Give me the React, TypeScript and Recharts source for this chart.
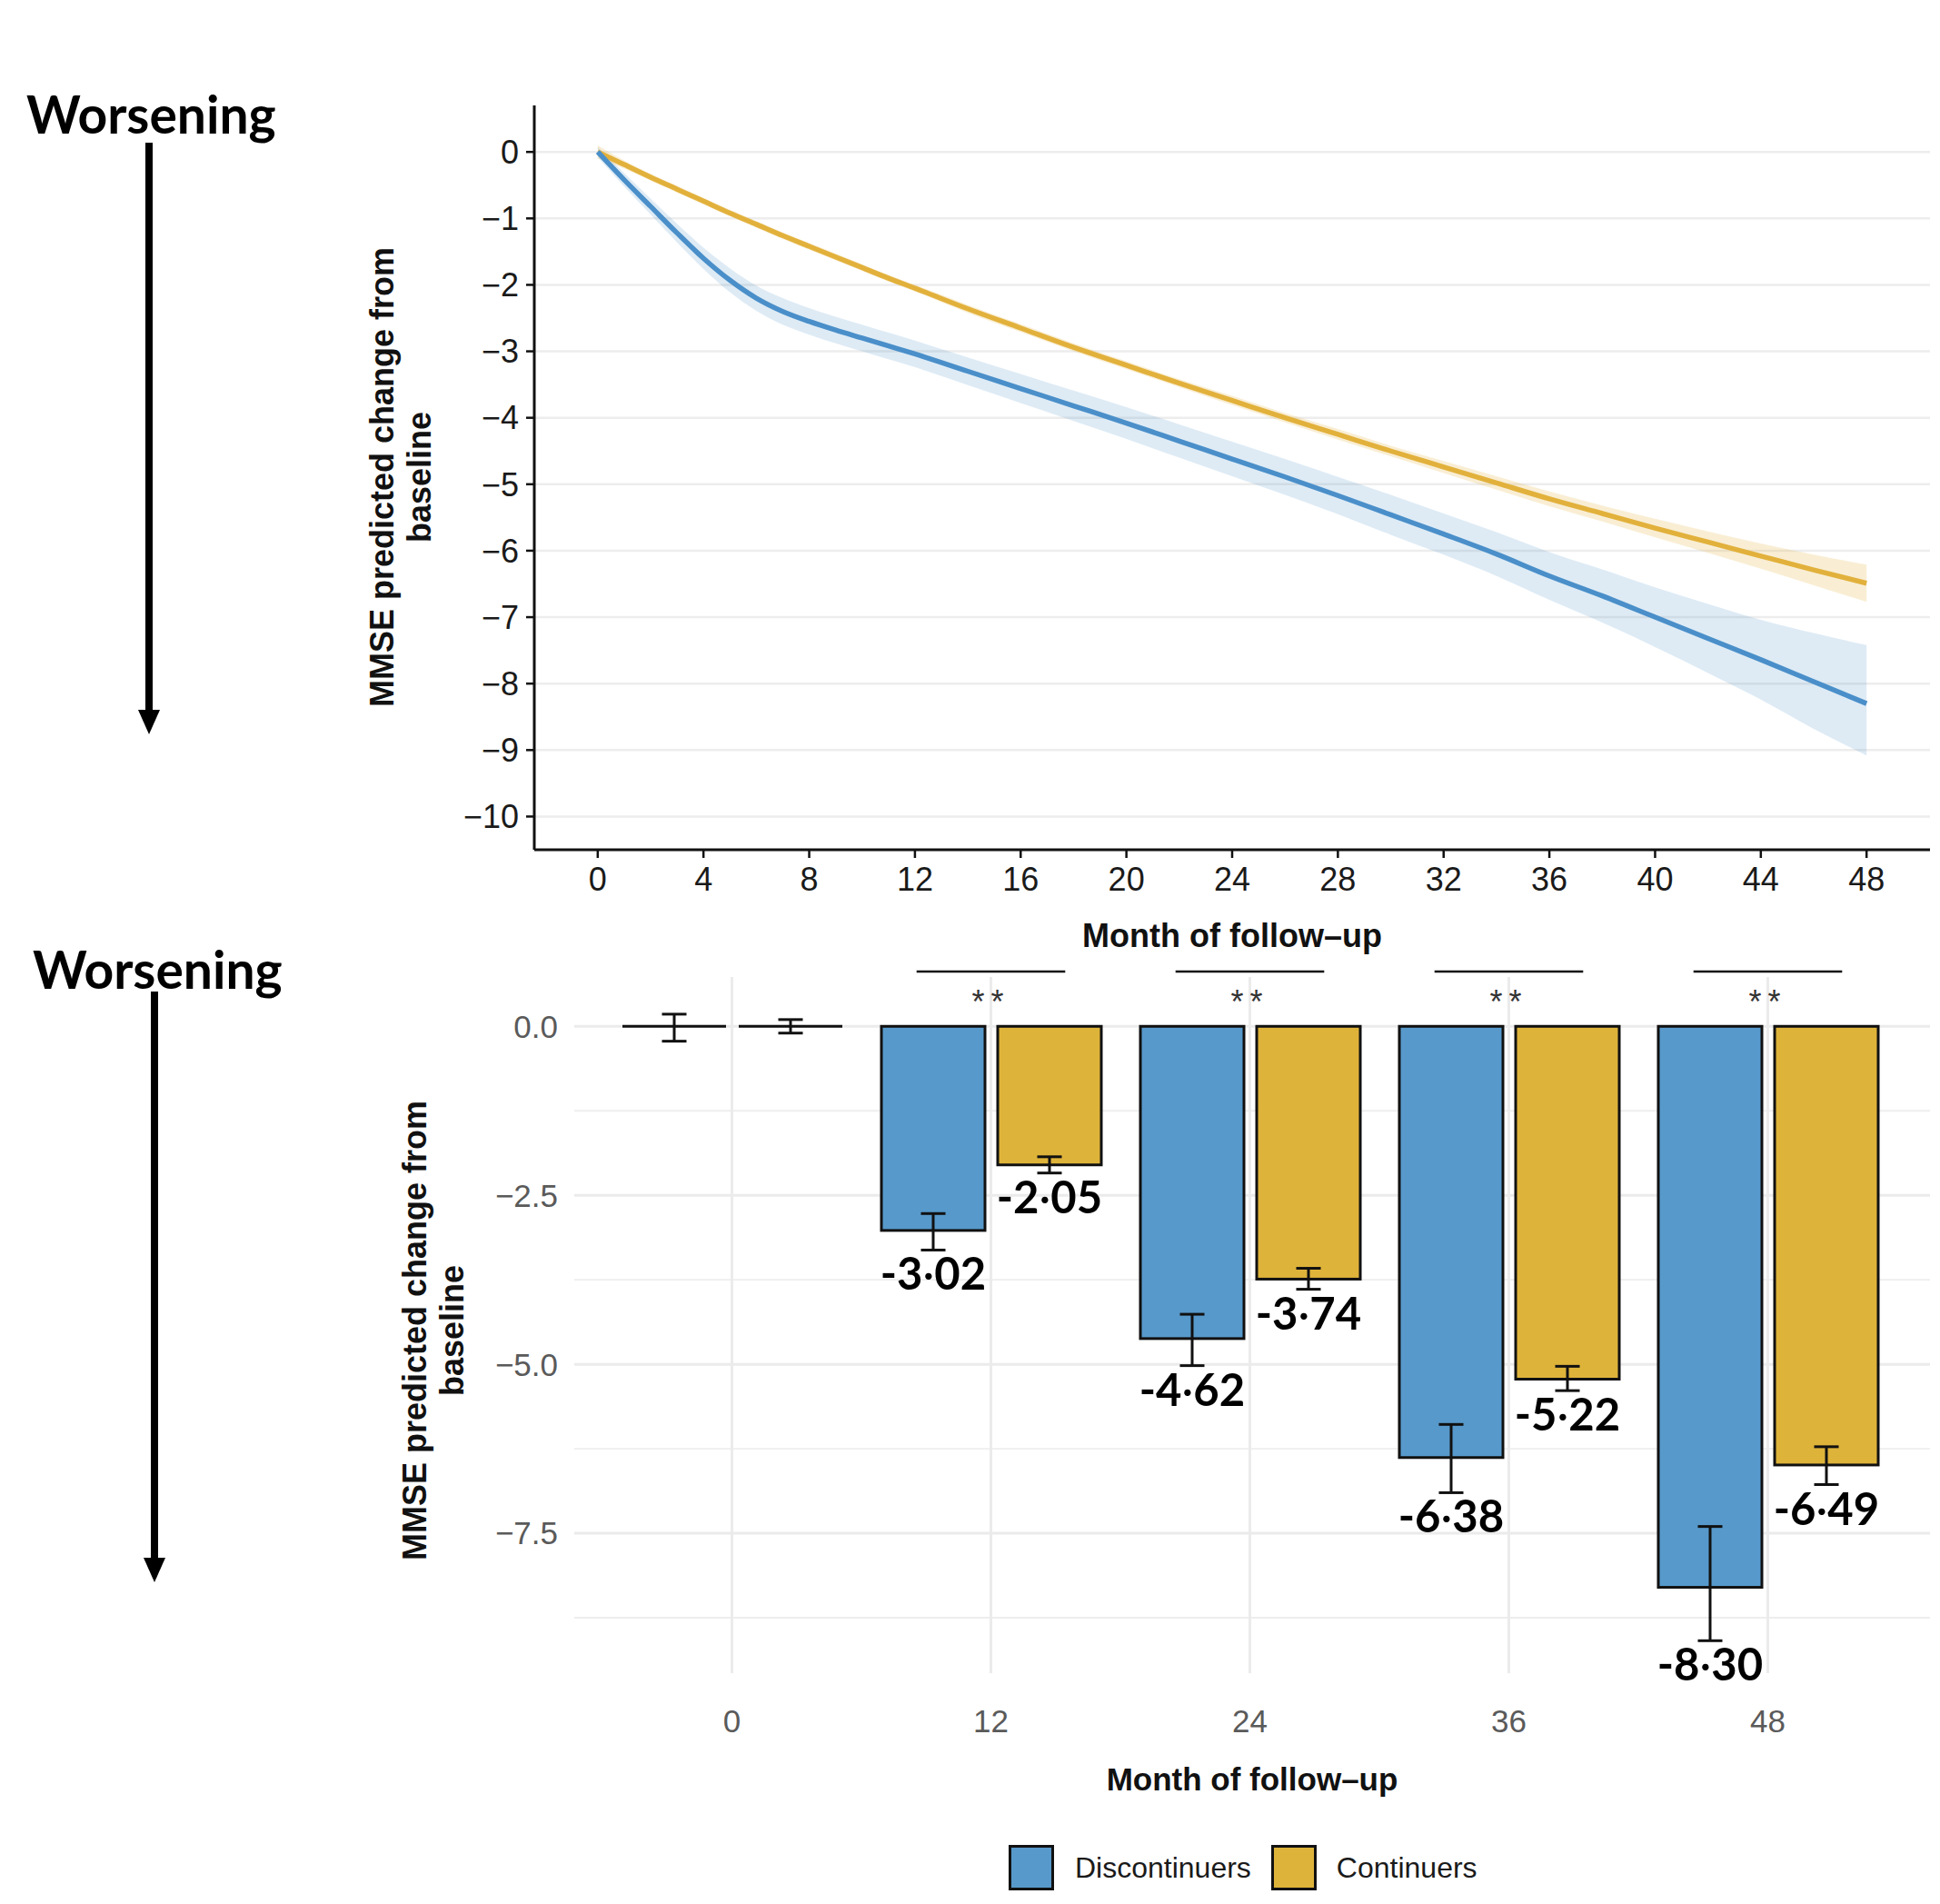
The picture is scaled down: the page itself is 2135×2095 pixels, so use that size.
import React from 'react';
import {
  ComposedChart,
  Bar,
  Line,
  Area,
  XAxis,
  YAxis,
  CartesianGrid,
  ErrorBar,
  LabelList,
  ReferenceLine,
  ReferenceDot,
} from 'recharts';

// ---------- Top panel: predicted trajectories ----------
const lineMonths = [0, 1, 2, 3, 4, 5, 6, 7, 8, 9, 10, 11, 12, 14, 16, 18, 20, 22, 24, 26, 28, 30, 32, 34, 36, 38, 40, 42, 44, 46, 48];
const discLine = [0, -0.42, -0.82, -1.22, -1.6, -1.93, -2.2, -2.4, -2.55, -2.68, -2.8, -2.92, -3.04, -3.3, -3.56, -3.82, -4.08, -4.35, -4.62, -4.89, -5.17, -5.46, -5.75, -6.05, -6.38, -6.68, -7.0, -7.32, -7.64, -7.97, -8.3];
const discUpper = [0.08, -0.32, -0.7, -1.08, -1.44, -1.75, -2.01, -2.2, -2.35, -2.48, -2.6, -2.72, -2.84, -3.09, -3.34, -3.59, -3.84, -4.1, -4.36, -4.62, -4.89, -5.16, -5.44, -5.72, -6.02, -6.28, -6.55, -6.8, -7.04, -7.24, -7.42];
const discLower = [-0.08, -0.52, -0.94, -1.36, -1.76, -2.11, -2.39, -2.6, -2.75, -2.88, -3.0, -3.12, -3.24, -3.51, -3.78, -4.05, -4.32, -4.6, -4.88, -5.16, -5.45, -5.76, -6.06, -6.38, -6.74, -7.08, -7.45, -7.84, -8.24, -8.68, -9.08];
const contLine = [0, -0.19, -0.38, -0.56, -0.74, -0.92, -1.09, -1.26, -1.42, -1.58, -1.74, -1.9, -2.05, -2.36, -2.65, -2.94, -3.21, -3.48, -3.74, -4.0, -4.25, -4.5, -4.74, -4.98, -5.22, -5.44, -5.66, -5.87, -6.08, -6.29, -6.49];
const contUpper = [0.1, -0.13, -0.33, -0.51, -0.69, -0.87, -1.04, -1.21, -1.37, -1.53, -1.69, -1.85, -2.0, -2.3, -2.59, -2.88, -3.15, -3.42, -3.67, -3.93, -4.17, -4.42, -4.65, -4.88, -5.11, -5.32, -5.52, -5.71, -5.89, -6.06, -6.21];
const contLower = [-0.1, -0.25, -0.43, -0.61, -0.79, -0.97, -1.14, -1.31, -1.47, -1.63, -1.79, -1.95, -2.1, -2.42, -2.71, -3.0, -3.27, -3.54, -3.81, -4.07, -4.33, -4.58, -4.83, -5.08, -5.33, -5.56, -5.8, -6.03, -6.27, -6.52, -6.77];
const topXTicks = [0, 4, 8, 12, 16, 20, 24, 28, 32, 36, 40, 44, 48];
const topYTicks = [0, -1, -2, -3, -4, -5, -6, -7, -8, -9, -10];

// ---------- Bottom panel: bars ----------
const barMonths = ['0', '12', '24', '36', '48'];
const discMean = [0, -3.02, -4.62, -6.38, -8.3];
const discLow = [-0.22, -3.31, -5.02, -6.9, -9.09];
const discHigh = [0.18, -2.77, -4.26, -5.89, -7.4];
const contMean = [0, -2.05, -3.74, -5.22, -6.49];
const contLow = [-0.1, -2.17, -3.89, -5.39, -6.78];
const contHigh = [0.1, -1.93, -3.58, -5.03, -6.22];
const discText = ['', '-3·02', '-4·62', '-6·38', '-8·30'];
const contText = ['', '-2·05', '-3·74', '-5·22', '-6·49'];
const sigText = ['', '**', '**', '**', '**'];
const bottomYTicks = [0, -2.5, -5, -7.5];
const bottomMinorY = [-1.25, -3.75, -6.25, -8.75];

const BLUE_LINE = '#4A8FC9';
const GOLD_LINE = '#E2B13C';
const BLUE_BAR = '#5799CB';
const GOLD_BAR = '#DEB33A';
const FONT = '"Liberation Sans", Arial, Helvetica, sans-serif';
const LABEL_FONT = 'Lato, "Open Sans", sans-serif';

const lineData = lineMonths.map((m, i) => ({
  month: m,
  disc: discLine[i],
  cont: contLine[i],
  discBand: [discLower[i], discUpper[i]],
  contBand: [contLower[i], contUpper[i]],
}));

const barData = barMonths.map((m, i) => ({
  month: m,
  idx: i,
  disc: discMean[i],
  cont: contMean[i],
  discErr: [discMean[i] - discLow[i], discHigh[i] - discMean[i]],
  contErr: [contMean[i] - contLow[i], contHigh[i] - contMean[i]],
  discLabel: discText[i],
  contLabel: contText[i],
}));

const minusFmtInt = (v: number) => (v === 0 ? '0' : '\u2212' + Math.abs(v));
const minusFmt1 = (v: number) => (v === 0 ? '0.0' : '\u2212' + Math.abs(v).toFixed(1));

const BarShape = (props: any) => {
  const { x, y, width, height, fill } = props;
  if (x == null || y == null) return <g />;
  const top = Math.min(y, y + height);
  const h = Math.abs(height || 0);
  if (h < 0.5) {
    return <line x1={x} x2={x + width} y1={y} y2={y} stroke="#111" strokeWidth={3} />;
  }
  return <rect x={x} y={top} width={width} height={h} fill={fill} stroke="#111" strokeWidth={3} />;
};

const makeValueLabel = (lows: number[], means: number[]) => (props: any) => {
  const { index, value } = props;
  const vb = props.viewBox || props;
  if (!value || index == null || !vb || means[index] === 0) return null;
  const { x, y, width, height } = vb;
  const top = Math.min(y, y + height);
  const h = Math.abs(height);
  const px = h / Math.abs(means[index]);
  const lowY = top + Math.abs(lows[index]) * px;
  const parts = String(value).split('·');
  return (
    <text
      x={x + width / 2}
      y={lowY + 25}
      textAnchor="middle"
      dominantBaseline="central"
      fontFamily={LABEL_FONT}
      fontWeight={700}
      fontSize={49}
      fill="#000"
    >
      <tspan>{parts[0]}</tspan>
      {parts.length > 1 ? <tspan fontWeight={400}>·</tspan> : null}
      {parts.length > 1 ? <tspan>{parts[1]}</tspan> : null}
    </text>
  );
};

const TopChart = () => (
  <ComposedChart
    width={2135}
    height={1060}
    data={lineData}
    margin={{ top: 116, right: 11, left: 0, bottom: 0 }}
  >
    <CartesianGrid vertical={false} syncWithTicks stroke="#EDEDED" strokeWidth={2.5} />
    <XAxis
      dataKey="month"
      type="number"
      domain={[-2.4, 50.4]}
      ticks={topXTicks}
      allowDataOverflow
      height={125}
      tickSize={9}
      tickMargin={10}
      axisLine={{ stroke: '#111', strokeWidth: 3 }}
      tickLine={{ stroke: '#111', strokeWidth: 2.5 }}
      tick={{ fill: '#1a1a1a', fontSize: 36, fontFamily: FONT }}
      label={{
        value: 'Month of follow\u2013up',
        position: 'insideBottom',
        offset: 18,
        style: { fontFamily: FONT, fontWeight: 700, fontSize: 36, fill: '#111' },
      }}
    />
    <YAxis
      type="number"
      domain={[-10.5, 0.7]}
      ticks={topYTicks}
      allowDataOverflow
      width={588}
      tickSize={9}
      tickMargin={8}
      tickFormatter={minusFmtInt}
      axisLine={{ stroke: '#111', strokeWidth: 3 }}
      tickLine={{ stroke: '#111', strokeWidth: 2.5 }}
      tick={{ fill: '#1a1a1a', fontSize: 36, fontFamily: FONT }}
    />
    <Area dataKey="discBand" type="monotone" stroke="none" fill={BLUE_LINE} fillOpacity={0.18} isAnimationActive={false} activeDot={false} />
    <Area dataKey="contBand" type="monotone" stroke="none" fill={GOLD_LINE} fillOpacity={0.22} isAnimationActive={false} activeDot={false} />
    <Line dataKey="cont" type="monotone" stroke={GOLD_LINE} strokeWidth={5.5} dot={false} activeDot={false} isAnimationActive={false} />
    <Line dataKey="disc" type="monotone" stroke={BLUE_LINE} strokeWidth={5.5} dot={false} activeDot={false} isAnimationActive={false} />
  </ComposedChart>
);

const BottomChart = () => (
  <ComposedChart
    width={2135}
    height={1055}
    data={barData}
    margin={{ top: 35, right: 11, left: 0, bottom: 104 }}
    barGap={14}
  >
    <CartesianGrid vertical={false} syncWithTicks horizontalValues={bottomMinorY} stroke="#EEEEEE" strokeWidth={1.8} />
    <CartesianGrid syncWithTicks horizontalValues={bottomYTicks} verticalValues={barMonths} stroke="#EBEBEB" strokeWidth={3} />
    <XAxis
      dataKey="month"
      type="category"
      padding={{ left: 31, right: 36 }}
      height={150}
      tickLine={false}
      axisLine={false}
      tickSize={0}
      tickMargin={40}
      tick={{ fill: '#5a5a5a', fontSize: 35, fontFamily: FONT }}
      label={{
        value: 'Month of follow\u2013up',
        position: 'insideBottom',
        offset: 21,
        style: { fontFamily: FONT, fontWeight: 700, fontSize: 35, fill: '#111' },
      }}
    />
    <XAxis
      xAxisId="n"
      dataKey="idx"
      type="number"
      domain={[-0.5, 4.5]}
      padding={{ left: 31, right: 36 }}
      allowDataOverflow
      hide
    />
    <YAxis
      type="number"
      domain={[-9.57, 0.73]}
      ticks={bottomYTicks}
      allowDataOverflow
      width={632}
      tickLine={false}
      axisLine={false}
      tickSize={0}
      tickMargin={18}
      tickFormatter={minusFmt1}
      tick={{ fill: '#5a5a5a', fontSize: 35, fontFamily: FONT }}
    />
    <Bar dataKey="disc" fill={BLUE_BAR} barSize={114} shape={BarShape} isAnimationActive={false}>
      <ErrorBar dataKey="discErr" width={13.5} stroke="#111" strokeWidth={3} direction="y" />
      <LabelList dataKey="discLabel" content={makeValueLabel(discLow, discMean)} />
    </Bar>
    <Bar dataKey="cont" fill={GOLD_BAR} barSize={114} shape={BarShape} isAnimationActive={false}>
      <ErrorBar dataKey="contErr" width={13.5} stroke="#111" strokeWidth={3} direction="y" />
      <LabelList dataKey="contLabel" content={makeValueLabel(contLow, contMean)} />
    </Bar>
    {barData.map((d, i) =>
      sigText[i] ? (
        <ReferenceLine
          key={'br' + i}
          xAxisId="n"
          segment={[
            { x: d.idx - 0.287, y: 0.81 },
            { x: d.idx + 0.287, y: 0.81 },
          ]}
          stroke="#111"
          strokeWidth={2.5}
          ifOverflow="visible"
        />
      ) : null
    )}
    {barData.map((d, i) =>
      sigText[i] ? (
        <ReferenceDot
          key={'sg' + i}
          xAxisId="n"
          x={d.idx}
          y={0.36}
          r={1}
          fill="none"
          stroke="none"
          ifOverflow="visible"
          label={{
            value: sigText[i],
            position: 'center',
            style: { fontFamily: FONT, fontSize: 36, fill: '#333', letterSpacing: 7 },
          }}
        />
      ) : null
    )}
  </ComposedChart>
);

const YTitle = ({ cx, cy }: { cx: number; cy: number }) => (
  <text
    transform={`translate(${cx},${cy}) rotate(-90)`}
    textAnchor="middle"
    fontFamily={FONT}
    fontWeight={700}
    fontSize={36}
    fill="#111"
  >
    <tspan x={0} y={-7}>MMSE predicted change from</tspan>
    <tspan x={0} y={34}>baseline</tspan>
  </text>
);

export default function App() {
  return (
    <div
      style={{
        position: 'absolute',
        left: 0,
        top: 0,
        width: 2135,
        height: 2095,
        background: '#fff',
        overflow: 'hidden',
      }}
    >
      <div style={{ position: 'absolute', left: 0, top: 0 }}>
        <TopChart />
      </div>
      <div style={{ position: 'absolute', left: 0, top: 1040 }}>
        <BottomChart />
      </div>
      <svg
        width={2135}
        height={2095}
        style={{ position: 'absolute', left: 0, top: 0, pointerEvents: 'none' }}
      >
        <text x={29} y={147} fontFamily={LABEL_FONT} fontWeight={700} fontSize={57} fill="#000">
          Worsening
        </text>
        <line x1={164} x2={164} y1={157} y2={785} stroke="#000" strokeWidth={8} />
        <polygon points="152,781 176,781 164,808" fill="#000" />
        <text x={36} y={1088} fontFamily={LABEL_FONT} fontWeight={700} fontSize={57} fill="#000">
          Worsening
        </text>
        <line x1={170} x2={170} y1={1091} y2={1718} stroke="#000" strokeWidth={8} />
        <polygon points="158,1714 182,1714 170,1741" fill="#000" />
        <YTitle cx={440} cy={525} />
        <YTitle cx={476} cy={1464} />
      </svg>
      <div
        style={{
          position: 'absolute',
          left: 1110,
          top: 2030,
          height: 50,
          display: 'flex',
          alignItems: 'center',
          fontFamily: FONT,
          fontSize: 32,
          color: '#1a1a1a',
          whiteSpace: 'nowrap',
        }}
      >
        <div style={{ width: 44, height: 44, background: BLUE_BAR, border: '3px solid #111' }} />
        <span style={{ marginLeft: 23 }}>Discontinuers</span>
        <div style={{ width: 44, height: 44, background: GOLD_BAR, border: '3px solid #111', marginLeft: 22 }} />
        <span style={{ marginLeft: 22 }}>Continuers</span>
      </div>
    </div>
  );
}
